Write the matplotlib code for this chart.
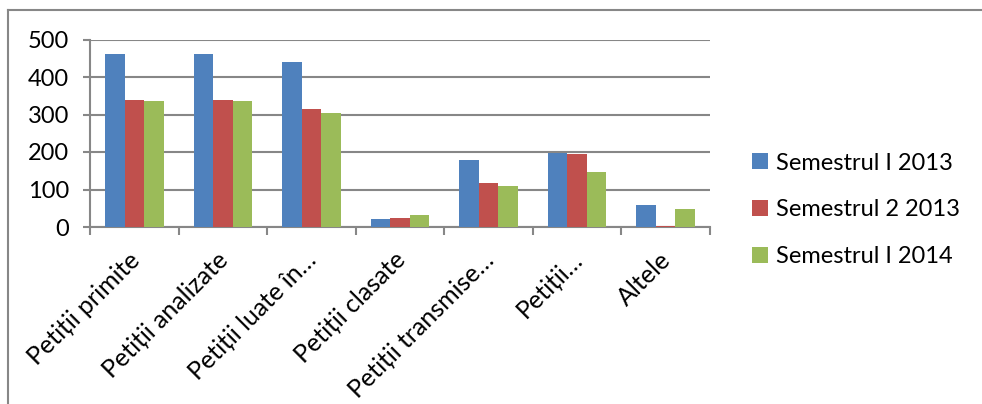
import numpy as np
import matplotlib
matplotlib.use('Agg')
import matplotlib.pyplot as plt
from matplotlib.lines import Line2D

plt.rcParams['font.family'] = ['Lato', 'DejaVu Sans']

categories = ['Petiții primite', 'Petiții analizate', 'Petiții luate în…',
              'Petiții clasate', 'Petiții transmise…', 'Petiții…', 'Altele']
sem1_2013 = [461, 461, 439, 22, 180, 198, 59]
sem2_2013 = [339, 339, 315, 24, 117, 194, 4]
sem1_2014 = [336, 336, 304, 32, 109, 148, 47]
series_names = ['Semestrul I 2013', 'Semestrul 2 2013', 'Semestrul I 2014']
colors = ['#4F81BD', '#C0504D', '#9BBB59']
grid_color = '#878787'

fig = plt.figure(figsize=(9.82, 4.04), dpi=100)
ax = fig.add_axes([90 / 982, 1 - 227 / 404, 620 / 982, 187.5 / 404])

x = np.arange(len(categories))
w = 0.22
for i, (vals, name, c) in enumerate(zip([sem1_2013, sem2_2013, sem1_2014], series_names, colors)):
    ax.bar(x + (i - 1) * w, vals, width=w, color=c, label=name, zorder=3)

ax.set_xlim(-0.5, len(categories) - 0.5)
ax.set_ylim(0, 500)
ax.set_yticks(range(0, 501, 100))
ax.yaxis.grid(True, color=grid_color, linewidth=1.5, zorder=0)
ax.tick_params(axis='y', length=5, width=1.5, color=grid_color, labelsize=17, pad=10)

# category ticks sit on the boundaries between groups
ax.set_xticks(np.arange(-0.5, len(categories), 1.0))
ax.set_xticklabels([])
ax.tick_params(axis='x', length=6, width=1.5, color=grid_color)
for xi, lab in zip(x, categories):
    ax.annotate(lab, xy=(xi, 0), xycoords=('data', 'axes fraction'),
                xytext=(1, -21), textcoords='offset points',
                rotation=45, ha='right', va='center', rotation_mode='anchor',
                fontsize=18)

for side in ['top', 'right']:
    ax.spines[side].set_visible(False)
for side in ['left', 'bottom']:
    ax.spines[side].set_color(grid_color)
    ax.spines[side].set_linewidth(1.5)

handles, labels = ax.get_legend_handles_labels()
fig.legend(handles, labels, loc='center left', bbox_to_anchor=(731 / 982, 1 - 210 / 404),
           frameon=False, fontsize=17, handlelength=0.65, handleheight=0.65,
           handletextpad=0.35, labelspacing=1.1)

# outer chart frame (only top and left edges visible)
fig.add_artist(Line2D([8 / 982, 1], [1 - 10 / 404, 1 - 10 / 404], color=grid_color, linewidth=1.5))
fig.add_artist(Line2D([8 / 982, 8 / 982], [0, 1 - 10 / 404], color=grid_color, linewidth=1.5))

fig.savefig('out.png', dpi=100)
